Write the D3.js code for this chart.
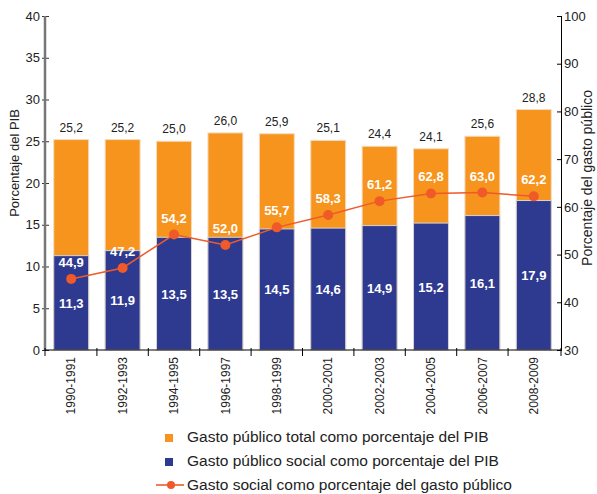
<!DOCTYPE html>
<html><head><meta charset="utf-8">
<script src="https://cdn.jsdelivr.net/npm/d3@7"></script>
<style>body{margin:0;background:#fff}svg{display:block;font-family:"Liberation Sans",Arial,sans-serif}</style>
</head><body>
<svg id="c" width="597" height="494"></svg>
<script>
const periods = ["1990-1991","1992-1993","1994-1995","1996-1997","1998-1999","2000-2001","2002-2003","2004-2005","2006-2007","2008-2009"];
const totalPIB = [25.2,25.2,25.0,26.0,25.9,25.1,24.4,24.1,25.6,28.8];
const socialPIB = [11.3,11.9,13.5,13.5,14.5,14.6,14.9,15.2,16.1,17.9];
const socialPct = [44.9,47.2,54.2,52.0,55.7,58.3,61.2,62.8,63.0,62.2];
const leftTicks = [0,5,10,15,20,25,30,35,40];
const rightTicks = [30,40,50,60,70,80,90,100];
const legendLabels = ["Gasto público total como porcentaje del PIB","Gasto público social como porcentaje del PIB","Gasto social como porcentaje del gasto público"];
const colors = {total:"#F7941D", social:"#2E3A90", line:"#EF5A28"};

const svg = d3.select("#c");
const L = 45, R = 560, T = 16, B = 350;
const x = d3.scaleBand().domain(periods).range([L, R]).paddingInner(0.32).paddingOuter(0.17);
const yL = d3.scaleLinear().domain([0,40]).range([B,T]);
const yR = d3.scaleLinear().domain([30,100]).range([B,T]);
const fmt = v => d3.format(".1f")(v).replace(".", ",");

// bars
const g = svg.append("g");
g.selectAll(".tot").data(periods).join("rect")
  .attr("x", d => x(d)).attr("width", x.bandwidth())
  .attr("y", (d,i) => yL(totalPIB[i])).attr("height", (d,i) => B - yL(totalPIB[i]))
  .attr("fill", colors.total).attr("stroke", "#f3dcc0").attr("stroke-width", 1);
g.selectAll(".soc").data(periods).join("rect")
  .attr("x", d => x(d)).attr("width", x.bandwidth())
  .attr("y", (d,i) => yL(socialPIB[i])).attr("height", (d,i) => B - yL(socialPIB[i]))
  .attr("fill", colors.social).attr("stroke", "#d8d4d0").attr("stroke-width", 1);

// total labels
g.selectAll(".tl").data(periods).join("text")
  .attr("x", d => x(d) + x.bandwidth()/2).attr("y", (d,i) => yL(totalPIB[i]) - 8)
  .attr("text-anchor","middle").attr("font-size", 12).attr("fill","#222")
  .text((d,i) => fmt(totalPIB[i]));
// social labels
g.selectAll(".sl").data(periods).join("text")
  .attr("x", d => x(d) + x.bandwidth()/2).attr("y", (d,i) => (yL(socialPIB[i]) + B)/2 + 5)
  .attr("text-anchor","middle").attr("font-size", 13).attr("font-weight","bold").attr("fill","#fff")
  .text((d,i) => fmt(socialPIB[i]));

// axes
const axL = svg.append("g").attr("transform", `translate(${L},0)`)
  .call(d3.axisLeft(yL).tickValues(leftTicks).tickSize(0).tickPadding(5));
axL.select(".domain").remove();
axL.selectAll("text").attr("font-size", 13).attr("fill","#222").attr("font-family","Liberation Sans, Arial, sans-serif");
axL.selectAll(".tick").append("line").attr("x1",-3).attr("x2",4).attr("stroke","#333");
svg.append("line").attr("x1",L).attr("x2",L).attr("y1",T).attr("y2",B).attr("stroke","#777").attr("stroke-width",2.5);

const axR = svg.append("g").attr("transform", `translate(${R+1},0)`)
  .call(d3.axisRight(yR).tickValues(rightTicks).tickSize(0).tickPadding(3));
axR.select(".domain").attr("stroke","#000");
axR.selectAll("text").attr("font-size", 13).attr("fill","#222").attr("font-family","Liberation Sans, Arial, sans-serif");
axR.selectAll(".tick").append("line").attr("x1",-4).attr("x2",1).attr("stroke","#000");

// x axis
svg.append("line").attr("x1",L).attr("x2",R+1).attr("y1",B).attr("y2",B).attr("stroke","#000");
const bounds = [L].concat(periods.slice(1).map(d => x(d) - x.step()*x.paddingInner()/2)).concat([R+1]);
svg.selectAll(".xt").data(bounds).join("line")
  .attr("x1", d=>d).attr("x2", d=>d).attr("y1", B-2).attr("y2", B+6).attr("stroke","#000");
svg.selectAll(".xl").data(periods).join("text")
  .attr("transform", d => `translate(${x(d)+x.bandwidth()/2},357) rotate(-90)`)
  .attr("dy","0.35em").attr("text-anchor","end").attr("font-size",12).attr("fill","#222")
  .text(d => d);

// line
const line = d3.line().x(d => x(d) + x.bandwidth()/2).y((d,i) => yR(socialPct[i]));
svg.append("path").datum(periods).attr("d", line).attr("fill","none").attr("stroke",colors.line).attr("stroke-width",1.5);
svg.selectAll(".pt").data(periods).join("circle")
  .attr("cx", d => x(d)+x.bandwidth()/2).attr("cy", (d,i) => yR(socialPct[i])).attr("r",5).attr("fill",colors.line);
svg.selectAll(".pl").data(periods).join("text")
  .attr("x", d => x(d)+x.bandwidth()/2).attr("y", (d,i) => yR(socialPct[i]) - 12)
  .attr("text-anchor","middle").attr("font-size",13).attr("font-weight","bold").attr("fill","#fff")
  .text((d,i) => fmt(socialPct[i]));

// axis titles
svg.append("text").attr("transform","translate(19,163) rotate(-90)").attr("text-anchor","middle")
  .attr("font-size",13).attr("fill","#222").text("Porcentaje del PIB");
svg.append("text").attr("transform","translate(592,178) rotate(-90)").attr("text-anchor","middle")
  .attr("font-size",14).attr("fill","#222").text("Porcentaje del gasto público");

// legend
const ly = [437, 461, 485];
svg.append("rect").attr("x",165).attr("y",ly[0]-3).attr("width",8).attr("height",8).attr("fill",colors.total);
svg.append("rect").attr("x",165).attr("y",ly[1]-3).attr("width",8).attr("height",8).attr("fill",colors.social);
svg.append("line").attr("x1",156).attr("x2",184).attr("y1",ly[2]).attr("y2",ly[2]).attr("stroke",colors.line).attr("stroke-width",1.6);
svg.append("circle").attr("cx",171).attr("cy",ly[2]).attr("r",4).attr("fill",colors.line);
svg.selectAll(".lg").data(legendLabels).join("text")
  .attr("x",187).attr("y",(d,i)=>ly[i]).attr("dy","0.35em").attr("font-size",15.5).attr("fill","#222").text(d=>d);
</script>
</body></html>
